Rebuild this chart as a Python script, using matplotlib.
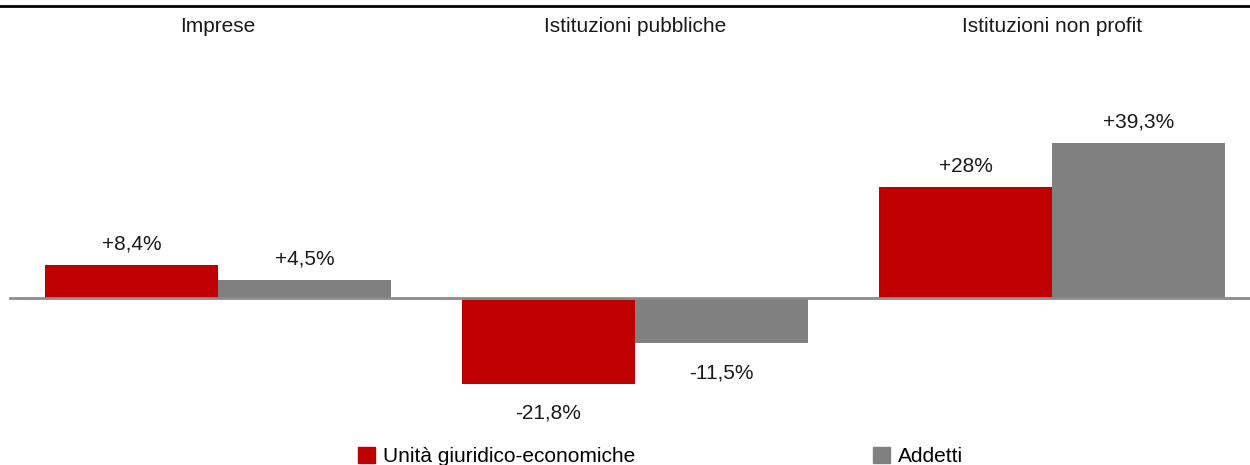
import numpy as np
import matplotlib.pyplot as plt
from matplotlib.lines import Line2D
from matplotlib.patches import Patch

# Data
categories = ["Imprese", "Istituzioni pubbliche", "Istituzioni non profit"]
unita = [8.4, -21.8, 28.0]
addetti = [4.5, -11.5, 39.3]
unita_labels = ["+8,4%", "-21,8%", "+28%"]
addetti_labels = ["+4,5%", "-11,5%", "+39,3%"]
series_names = ["Unità giuridico-economiche", "Addetti"]

red = "#C00000"
grey = "#808080"

plt.rcParams["font.family"] = ["Liberation Sans Narrow", "Liberation Sans", "DejaVu Sans"]

fig = plt.figure(figsize=(12.5, 4.65), dpi=100)
ax = fig.add_axes([0, 0, 1, 1])

x = np.arange(len(categories))
w = 0.415

b1 = ax.bar(x - w / 2, unita, w, color=red, linewidth=0)
b2 = ax.bar(x + w / 2, addetti, w, color=grey, linewidth=0)

# pixel based limits: 417 px per category, first centre at 218 px
ax.set_xlim(-218 / 417, (1250 - 218) / 417)
ax.set_ylim(-(465 - 298) / 3.95, 298 / 3.95)
ax.axis("off")

ax.axhline(0, xmin=10 / 1250, xmax=1, color="#8c8c8c", linewidth=2)

for bars, labels in [(b1, unita_labels), (b2, addetti_labels)]:
    for bar, lab in zip(bars, labels):
        v = bar.get_height()
        cx = bar.get_x() + bar.get_width() / 2
        if v >= 0:
            ax.annotate(lab, (cx, v), xytext=(0, 15), textcoords="offset points",
                        ha="center", va="center", fontsize=15, color="#1a1a1a")
        else:
            ax.annotate(lab, (cx, v), xytext=(0, -21), textcoords="offset points",
                        ha="center", va="center", fontsize=15, color="#1a1a1a")

# category headers and top rule
for i, c in enumerate(categories):
    ax.text(i, 1 - 27 / 465, c, transform=ax.get_xaxis_transform(),
            ha="center", va="center", fontsize=15, color="#1a1a1a")
fig.add_artist(Line2D([0, 1], [1 - 6 / 465] * 2, color="black", linewidth=2))

handles = [Patch(color=red), Patch(color=grey)]
ax.legend(handles, series_names, loc="lower left", bbox_to_anchor=(350 / 1250, -0.02),
          ncol=2, frameon=False, fontsize=15, handlelength=0.8, handleheight=0.8,
          handletextpad=0.4, columnspacing=11.4, borderaxespad=0)

fig.savefig("out.png", dpi=100)
